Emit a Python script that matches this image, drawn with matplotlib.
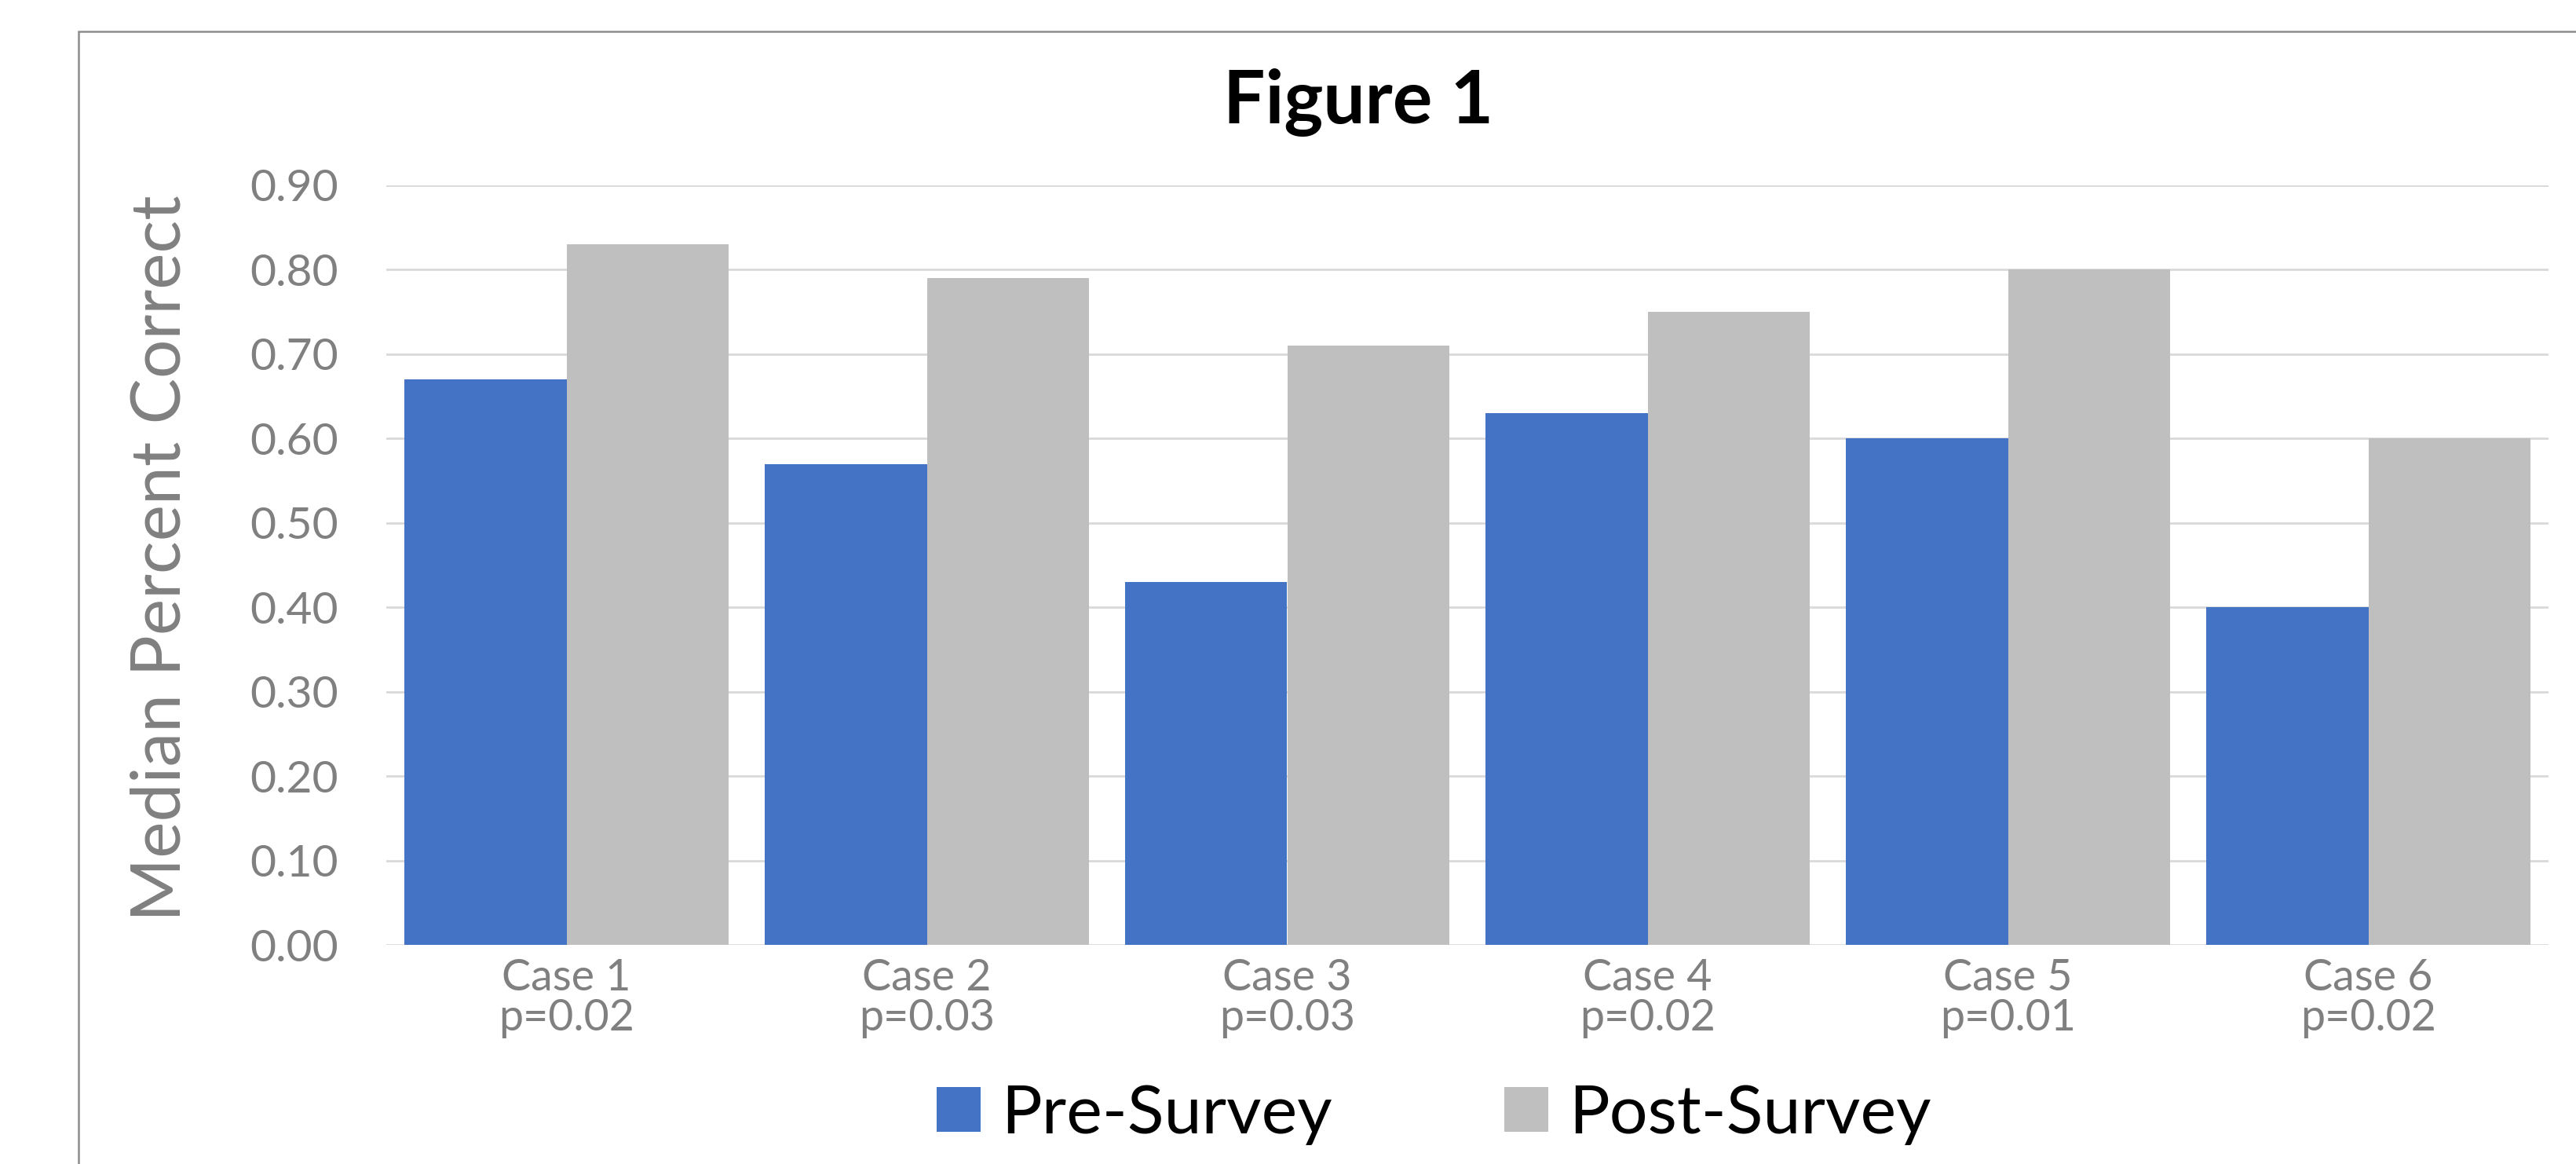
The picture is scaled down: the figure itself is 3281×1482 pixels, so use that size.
import matplotlib.pyplot as plt
import matplotlib.patches as mpatches
import numpy as np

# dados do gráfico
casos = ["Case 1", "Case 2", "Case 3", "Case 4", "Case 5", "Case 6"]
p_valores = ["p=0.02", "p=0.03", "p=0.03", "p=0.02", "p=0.01", "p=0.02"]
pre = [0.67, 0.57, 0.43, 0.63, 0.60, 0.40]
pos = [0.83, 0.79, 0.71, 0.75, 0.80, 0.60]
yticks = [0.0, 0.1, 0.2, 0.3, 0.4, 0.5, 0.6, 0.7, 0.8, 0.9]

AZUL = "#4472C4"
CINZA = "#BFBFBF"
TEXTO = "#808080"
GRADE = "#D9D9D9"

plt.rcParams["font.family"] = ["Lato", "DejaVu Sans"]

fig = plt.figure(figsize=(16.405, 7.41), dpi=200)
W, H = 3281, 1482

# borda externa da área do gráfico
borda = mpatches.Rectangle((100 / W, -0.1), 1.2, 1 - 40 / H + 0.1, transform=fig.transFigure,
                           fill=False, edgecolor="#8C8C8C", linewidth=0.9)
fig.patches.append(borda)

ax = fig.add_axes([492 / W, 1 - 1203 / H, (3246 - 492) / W, (1203 - 236) / H])

x = np.arange(len(casos))
larg = 0.45
ax.bar(x - larg / 2, pre, larg, color=AZUL, label="Pre-Survey", zorder=3)
ax.bar(x + larg / 2, pos, larg, color=CINZA, label="Post-Survey", zorder=3)

ax.set_xlim(-0.5, len(casos) - 0.5)
ax.set_ylim(0, 0.9)
ax.set_yticks(yticks)
ax.set_yticklabels([f"{v:.2f}" for v in yticks])
for v in yticks:
    ax.axhline(v, color=GRADE, linewidth=1.0, zorder=1)

ax.set_xticks(x)
ax.set_xticklabels([f"{c}\n{p}" for c, p in zip(casos, p_valores)], linespacing=1.0)
ax.tick_params(axis="x", length=0, pad=6, labelsize=20, labelcolor=TEXTO)
ax.tick_params(axis="y", length=0, pad=22, labelsize=20.5, labelcolor=TEXTO)
for s in ax.spines.values():
    s.set_visible(False)

fig.text(1730 / W, 1 - 130 / H, "Figure 1", ha="center", va="center",
         fontsize=34, fontweight="bold", color="black")
fig.text(205 / W, 1 - 711 / H, "Median Percent Correct", ha="center", va="center",
         rotation=90, fontsize=31.5, color=TEXTO)

fig.legend(loc="center", bbox_to_anchor=(1826 / W, 1 - 1419 / H), ncol=2, frameon=False,
           fontsize=31, handlelength=0.65, handleheight=0.65, handletextpad=0.3,
           columnspacing=2.55)

fig.savefig("out.png", dpi=200)
